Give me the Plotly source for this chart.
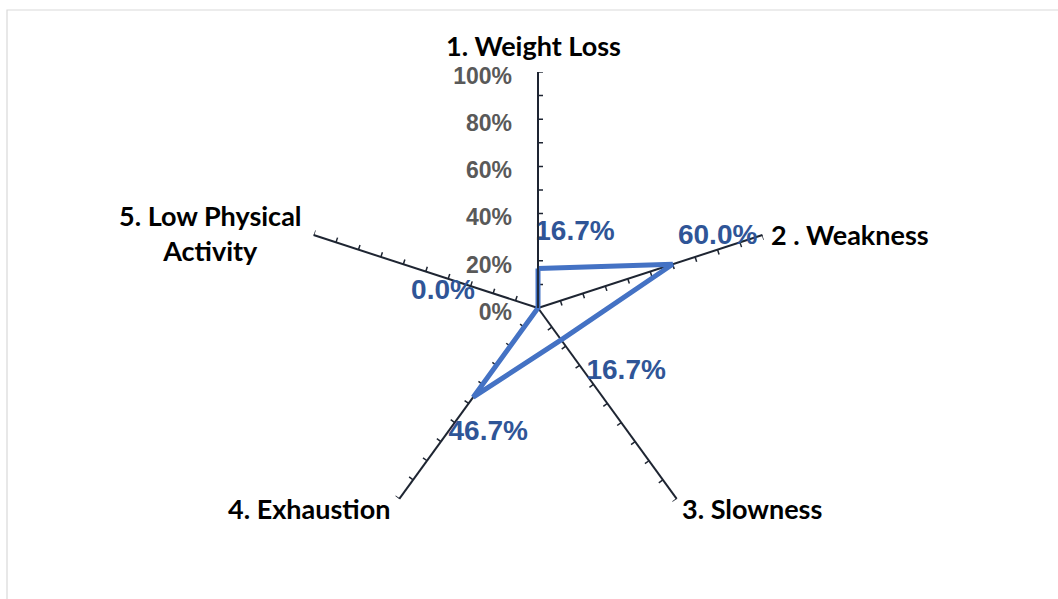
import numpy as np
import plotly.graph_objects as go

# Frailty components and share of participants meeting each criterion
categories = ["1. Weight Loss", "2 . Weakness", "3. Slowness", "4. Exhaustion",
              "5. Low Physical<br>Activity"]
values = [0.167, 0.600, 0.167, 0.467, 0.000]
value_labels = ["16.7%", "60.0%", "16.7%", "46.7%", "0.0%"]
radial_ticks = [0.0, 0.2, 0.4, 0.6, 0.8, 1.0]
radial_tick_text = ["0%", "20%", "40%", "60%", "80%", "100%"]

W, H = 1058, 599
CX, CY, R = 538, 308, 236          # plot centre and outer radius in px
AXIS_COLOR = "#1E2532"

n = len(categories)
angles = [i * 360.0 / n for i in range(n)]


def shifted(r, a, dx, dy):
    """Polar point (r, a) moved by (dx, dy) screen pixels -> (r, theta)."""
    x = r * R * np.sin(np.radians(a)) + dx
    y = r * R * np.cos(np.radians(a)) - dy
    return np.hypot(x, y) / R, np.degrees(np.arctan2(x, y))


def text_trace(rs, ts, texts, pos, font):
    return go.Scatterpolar(r=rs, theta=ts, mode="text", text=texts,
                           textposition=pos, textfont=font, cliponaxis=False,
                           hoverinfo="skip", showlegend=False)


fig = go.Figure()

# minor tick marks every 10% on each spoke, drawn on the clockwise side
tick_len = 5.0 / R
tr, tt = [], []
for a in angles:
    for k in range(1, 11):
        r = k / 10.0
        tr += [r, np.hypot(r, tick_len), None]
        tt += [a, a + np.degrees(np.arctan2(tick_len, r)), None]
fig.add_trace(go.Scatterpolar(r=tr, theta=tt, mode="lines",
                              line=dict(color=AXIS_COLOR, width=1.5),
                              hoverinfo="skip", showlegend=False))

# series polygon
fig.add_trace(go.Scatterpolar(r=values + values[:1], theta=angles + angles[:1],
                              mode="lines", line=dict(color="#4472C4", width=5),
                              showlegend=False))

# value labels, offset (px) from each vertex
label_offsets = [(37, -36), (45, -27), (65, 32), (15, 36), (-95, -16)]
pts = [shifted(v, a, dx, dy) for v, a, (dx, dy) in zip(values, angles, label_offsets)]
fig.add_trace(text_trace([p[0] for p in pts], [p[1] for p in pts], value_labels,
                         "middle center",
                         dict(family="Liberation Sans", size=28, color="#2F5597",
                              weight="bold")))

# radial axis labels, left of the vertical spoke
pts = [shifted(t, 0, -26, 6) for t in radial_ticks]
fig.add_trace(text_trace([p[0] for p in pts], [p[1] for p in pts], radial_tick_text,
                         "middle left",
                         dict(family="Liberation Sans", size=23, color="#595959",
                              weight="bold")))

# category names just beyond the spoke ends
cat_offsets = [(-5, -27), (7, -1), (3, 10), (-7, 10), (-103, -2)]
cat_anchor = [("center", "middle"), ("left", "middle"), ("left", "middle"),
              ("right", "middle"), ("center", "middle")]
annotations = []
for name, a, (dx, dy), (xa, ya) in zip(categories, angles, cat_offsets, cat_anchor):
    px = CX + R * np.sin(np.radians(a)) + dx
    py = CY - R * np.cos(np.radians(a)) + dy
    annotations.append(dict(x=px / W, y=1 - py / H, xref="paper", yref="paper",
                            text=name, showarrow=False, xanchor=xa, yanchor=ya,
                            align="center",
                            font=dict(family="Lato", size=27, color="#000000",
                                      weight="bold")))

fig.update_layout(
    width=W, height=H,
    margin=dict(l=0, r=0, t=0, b=0),
    paper_bgcolor="white", plot_bgcolor="white",
    annotations=annotations,
    polar=dict(
        domain=dict(x=[(CX - R) / W, (CX + R) / W],
                    y=[(H - CY - R) / H, (H - CY + R) / H]),
        bgcolor="rgba(0,0,0,0)",
        radialaxis=dict(range=[0, 1], angle=90, showticklabels=False, ticks="",
                        showgrid=False, showline=True, linecolor=AXIS_COLOR,
                        linewidth=1.8),
        angularaxis=dict(direction="clockwise", rotation=90,
                         tickvals=angles, showticklabels=False,
                         showgrid=True, gridcolor=AXIS_COLOR, gridwidth=1.7,
                         showline=False, ticks=""),
    ),
    shapes=[dict(type="rect", xref="paper", yref="paper",
                 x0=7 / W, x1=1.01, y0=-0.01, y1=(H - 10) / H,
                 line=dict(color="#D9D9D9", width=1.2), fillcolor="rgba(0,0,0,0)")],
)

fig.write_html("out.html")
